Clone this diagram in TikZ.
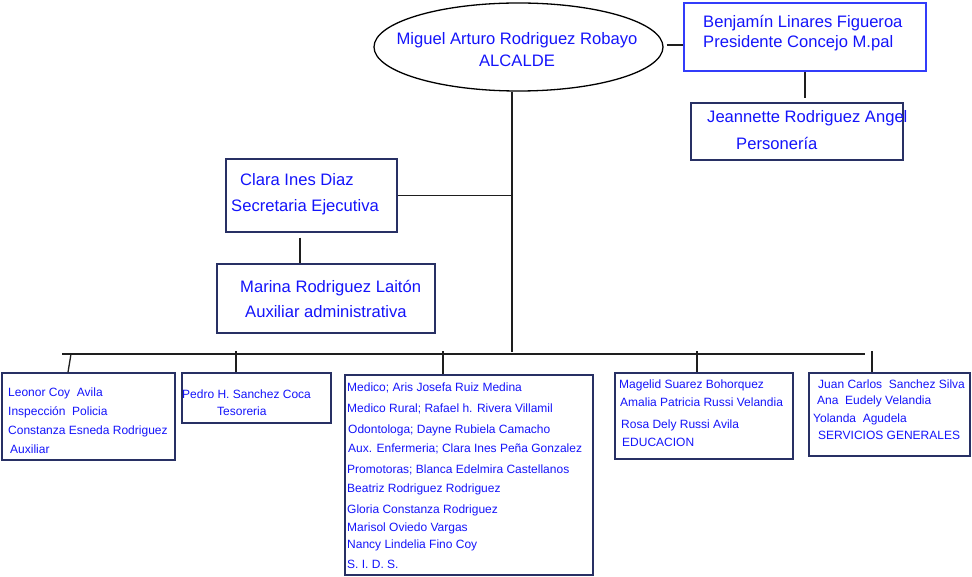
\documentclass[tikz,border=0pt]{standalone}
\usepackage{fontspec}
\setmainfont{Liberation Sans}
\usetikzlibrary{shapes.geometric}

\definecolor{txtblue}{RGB}{20,20,250}
\definecolor{boxline}{RGB}{40,48,100}
\definecolor{presline}{RGB}{50,60,250}
\definecolor{linecol}{RGB}{30,30,30}

\begin{document}
\begin{tikzpicture}[x=1pt,y=-1pt]
    \tikzstyle{box}=[rectangle, draw=boxline, line width=1.5pt, inner sep=0pt]
    \tikzstyle{big}=[anchor=base west, inner sep=0pt, text=txtblue, font=\fontsize{16.6}{20}\selectfont]
    \tikzstyle{sml}=[anchor=base west, inner sep=0pt, text=txtblue, font=\fontsize{12}{14}\selectfont]
    \tikzstyle{con}=[draw=linecol, line width=1.3pt]

    \useasboundingbox (0,0) rectangle (972,577);

    % top
    \node[ellipse, draw, line width=1.3pt, minimum width=289, minimum height=88, inner sep=0pt] (alc) at (518.5,47) {};
    \node[box, draw=presline, minimum width=242, minimum height=68] (pres) at (805,37) {};
    \node[box, minimum width=212, minimum height=57] (pers) at (797,131.5) {};
    \node[box, minimum width=171, minimum height=73] (sec) at (311.5,195.5) {};
    \node[box, minimum width=218, minimum height=69] (aux) at (326,298.5) {};

    % bottom row
    \node[box, minimum width=173, minimum height=87] (insp) at (88.5,416.5) {};
    \node[box, minimum width=149, minimum height=50] (tes) at (256.5,398) {};
    \node[box, minimum width=248, minimum height=200] (sal) at (469,475) {};
    \node[box, minimum width=178, minimum height=86] (edu) at (704,416) {};
    \node[box, minimum width=161, minimum height=83] (serv) at (889.5,414.5) {};

    \node[big, anchor=base] (alc1) at (517,45) {Miguel Arturo Rodriguez Robayo};
    \node[big, anchor=base] (alc2) at (517,67) {ALCALDE};
    \node[big] (pres1) at (703,28) {Benjamín Linares Figueroa};
    \node[big] (pres2) at (703,48) {Presidente Concejo M.pal};
    \node[big] (pers1) at (707,123) {Jeannette Rodriguez Angel};
    \node[big] (pers2) at (736,150) {Personería};
    \node[big] (sec1) at (240,186) {Clara Ines Diaz};
    \node[big] (sec2) at (231,212) {Secretaria Ejecutiva};
    \node[big] (aux1) at (240,293) {Marina Rodriguez Laitón};
    \node[big] (aux2) at (245,318) {Auxiliar administrativa};

    \foreach \xx/\yy/\lbl [count=\i] in {8/396/Leonor Coy~ Avila, 8/415/Inspección~ Policia,
        8/434/Constanza Esneda Rodriguez, 10/453/Auxiliar}
        \node[sml] (insp\i) at (\xx,\yy) {\lbl};
    \node[sml] (tes1) at (182,398) {Pedro H. Sanchez Coca};
    \node[sml] (tes2) at (217,415) {Tesoreria};
    \foreach \xx/\yy/\lbl [count=\i] in {347/391/Medico; Aris Josefa Ruiz Medina,
        347/412/Medico Rural; Rafael h. Rivera Villamil,
        348/433/Odontologa; Dayne Rubiela Camacho,
        348/452/Aux. Enfermeria; Clara Ines Peña Gonzalez,
        347/473/Promotoras; Blanca Edelmira Castellanos,
        347/492/Beatriz Rodriguez Rodriguez,
        347/513/Gloria Constanza Rodriguez,
        347/531/Marisol Oviedo Vargas,
        347/548/Nancy Lindelia Fino Coy,
        347/568/S. I. D. S.}
        \node[sml] (sal\i) at (\xx,\yy) {\lbl};
    \foreach \xx/\yy/\lbl [count=\i] in {619/388/Magelid Suarez Bohorquez,
        620/406/Amalia Patricia Russi Velandia, 621/428/Rosa Dely Russi Avila, 622/446/EDUCACION}
        \node[sml] (edu\i) at (\xx,\yy) {\lbl};
    \foreach \xx/\yy/\lbl [count=\i] in {818/388/Juan Carlos~ Sanchez Silva,
        817/404/Ana~ Eudely Velandia, 813/422/Yolanda~ Agudela, 818/439/SERVICIOS GENERALES}
        \node[sml] (serv\i) at (\xx,\yy) {\lbl};

    % lines
    \coordinate (trunk) at (512,352);
    \coordinate (barL) at (62,354);
    \coordinate (barR) at (865,354);
    \draw[con] (alc.south -| trunk) -- (trunk);
    \draw[con] (alc.east) ++(3,-2) -- (pres.west |- 0,45);
    \draw[con] (pres.south) -- ++(0,26);
    \draw[con] (sec.east) -- (sec.east -| trunk);
    \draw[con] (sec.south) ++(-11.5,5) -- (aux.north -| 300,0);
    \draw[con] (barL) -- (barR);
    \draw[con] (barL) ++(9,0) -- (insp.north -| 68,0);
    \foreach \xx/\bx in {236/tes, 443/sal, 697/edu, 872/serv}
        \draw[con] (\xx,351) -- (\bx.north -| \xx,0);
\end{tikzpicture}
\end{document}
